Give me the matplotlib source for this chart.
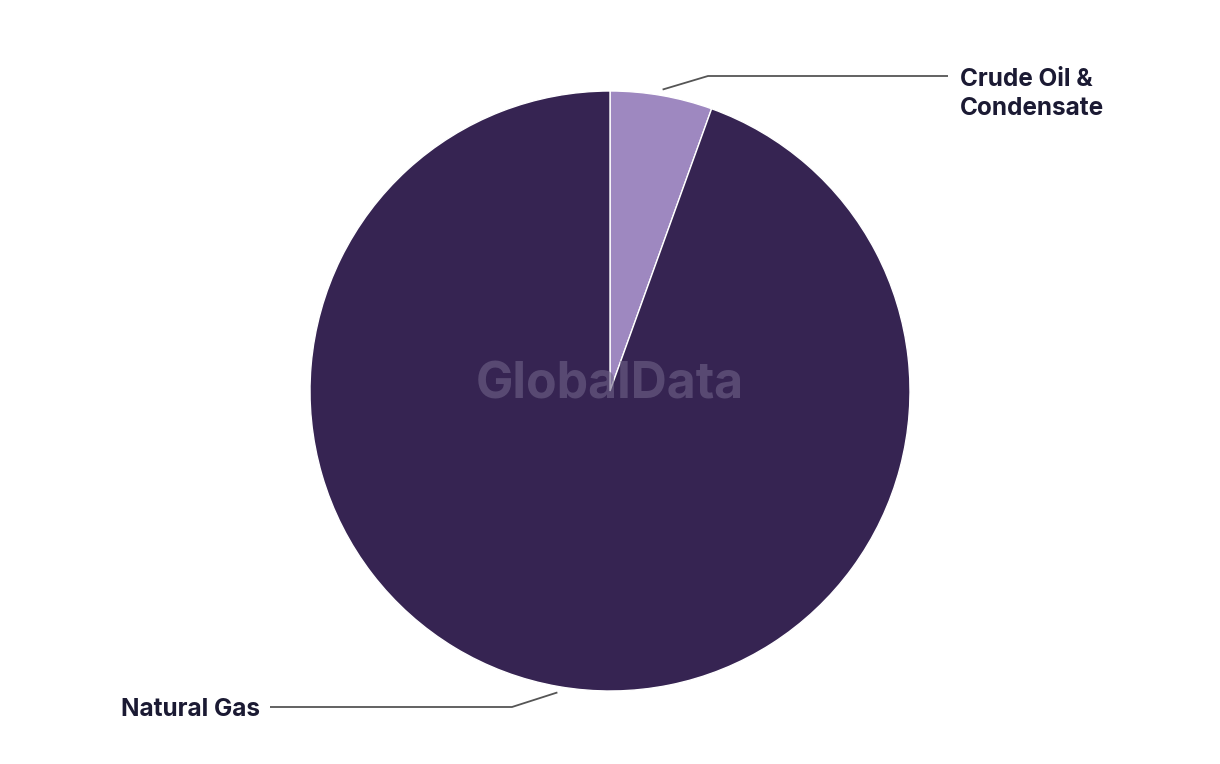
import numpy as np
import matplotlib
matplotlib.use('Agg')
import matplotlib.pyplot as plt

labels = ['Crude Oil &\nCondensate', 'Natural Gas']
shares = [5.5, 94.5]
colors = ['#9e88c0', '#362452']

W, H = 1220, 764
fig = plt.figure(figsize=(W / 100, H / 100), dpi=100)
ax = fig.add_axes([0, 0, 1, 1])

cx, cy, r = 610, H - 391, 300
wedges, _ = ax.pie(shares, colors=colors, startangle=90, counterclock=False,
                   center=(cx, cy), radius=r, frame=True,
                   wedgeprops=dict(edgecolor='white', linewidth=1))
ax.set_xlim(0, W)
ax.set_ylim(0, H)
ax.set_aspect('equal')
ax.axis('off')

ax.text(cx, H - 385, 'GlobalData', ha='center', va='center', fontsize=36,
        fontweight='bold', family='Inter', color='#6f6388', alpha=0.6, zorder=5)

# leader lines: elbow point, horizontal end, label x, text offset from line
label_pos = [
    dict(elbow=(708, 76), end=948, tx=960, ha='left', dy=-18),
    dict(elbow=(512, 707), end=270, tx=260, ha='right', dy=-2),
]
for w, lab, lp in zip(wedges, labels, label_pos):
    ang = np.deg2rad((w.theta1 + w.theta2) / 2)
    x0 = cx + 1.02 * r * np.cos(ang)
    y0 = cy + 1.02 * r * np.sin(ang)
    ex, ey = lp['elbow'][0], H - lp['elbow'][1]
    ax.plot([x0, ex, lp['end']], [y0, ey, ey], color='#555555', lw=1.3,
            solid_capstyle='butt')
    ax.text(lp['tx'], ey + lp['dy'], lab, ha=lp['ha'], va='center',
            fontsize=17.5, fontweight='bold', family='Inter', color='#1b1a33',
            linespacing=1.33)

fig.savefig('out.png', dpi=100, facecolor='white')
